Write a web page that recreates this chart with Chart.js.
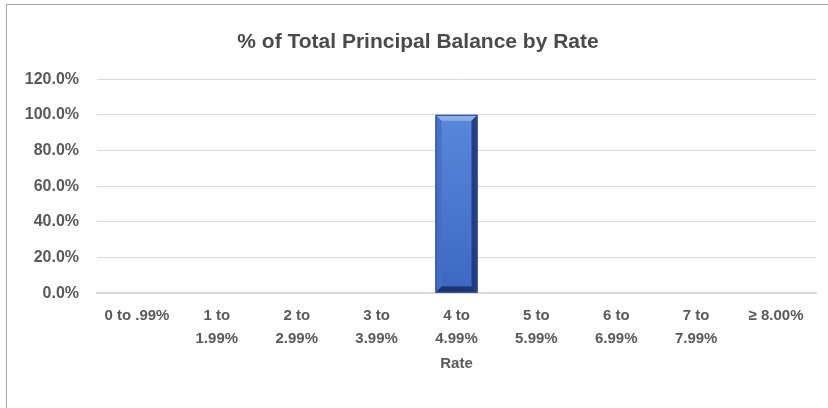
<!DOCTYPE html>
<html>
<head>
<meta charset="utf-8">
<script src="https://cdn.jsdelivr.net/npm/chart.js@4"></script>
<style>
  html, body { margin: 0; padding: 0; background: #fff; }
  #wrap { position: relative; width: 828px; height: 408px; overflow: hidden; }
  #frame { position: absolute; left: 6px; top: 4px; width: 840px; height: 420px; border: 1px solid #a6a6a6; box-sizing: border-box; }
  canvas { position: absolute; left: 0; top: 0; }
</style>
</head>
<body>
<div id="wrap">
  <div id="frame"></div>
  <canvas id="rateChart" width="828" height="408"></canvas>
</div>
<script>
var rateBuckets = [
  '0 to .99%', ['1 to', '1.99%'], ['2 to', '2.99%'], ['3 to', '3.99%'], ['4 to', '4.99%'],
  ['5 to', '5.99%'], ['6 to', '6.99%'], ['7 to', '7.99%'], '≥ 8.00%'
];
var pctBalance = [0, 0, 0, 0, 100, 0, 0, 0, 0];
var yTicks = [0, 20, 40, 60, 80, 100, 120];

var fontFam = "'Liberation Sans Narrow', 'Liberation Sans', sans-serif";
var grey = '#595959';

// beveled look for the bars
var bevel = {
  id: 'bevel',
  afterDatasetsDraw: function(chart) {
    var ctx = chart.ctx;
    chart.getDatasetMeta(0).data.forEach(function(bar, i) {
      if (!pctBalance[i]) return;
      var w = bar.width / 2, l = bar.x - w, r = bar.x + w, t = bar.y, b = bar.base, d = 6;
      ctx.save();
      function quad(pts, col) {
        ctx.beginPath();
        ctx.moveTo(pts[0], pts[1]);
        for (var k = 2; k < pts.length; k += 2) ctx.lineTo(pts[k], pts[k + 1]);
        ctx.closePath();
        ctx.fillStyle = col;
        ctx.fill();
      }
      quad([l, t, r, t, r - d, t + d, l + d, t + d], 'rgba(150,180,235,0.85)');
      quad([l, t, l + d, t + d, l + d, b - d, l, b], 'rgba(70,110,200,0.9)');
      quad([r, t, r - d, t + d, r - d, b - d, r, b], 'rgba(30,55,120,0.9)');
      quad([l, b, l + d, b - d, r - d, b - d, r, b], 'rgba(25,45,100,0.9)');
      ctx.strokeStyle = '#2c4a8c';
      ctx.lineWidth = 1;
      ctx.strokeRect(l + 0.5, t + 0.5, r - l - 1, b - t - 1);
      ctx.restore();
    });
  }
};

var el = document.getElementById('rateChart');
var g = el.getContext('2d').createLinearGradient(0, 80, 0, 292);
g.addColorStop(0, '#5f8ee0');
g.addColorStop(1, '#3d68c2');

new Chart(el, {
  type: 'bar',
  data: {
    labels: rateBuckets,
    datasets: [{
      data: pctBalance,
      backgroundColor: g,
      borderWidth: 0,
      categoryPercentage: 1,
      barPercentage: 0.526
    }]
  },
  options: {
    responsive: false,
    animation: false,
    layout: { padding: { left: 20, right: 12, top: 12, bottom: 35 } },
    plugins: {
      legend: { display: false },
      tooltip: { enabled: false },
      title: {
        display: true,
        text: '% of Total Principal Balance by Rate',
        color: '#4a4a4a',
        font: { family: fontFam, size: 21, weight: 'bold' },
        padding: { top: 18, bottom: 24 }
      }
    },
    scales: {
      x: {
        grid: { display: false, drawTicks: false, tickLength: 0 },
        border: { color: '#d9d9d9', width: 2 },
        ticks: {
          color: grey, maxRotation: 0, autoSkip: false, padding: 11,
          font: { family: fontFam, size: 15, weight: 'bold', lineHeight: 1.53 }
        },
        title: {
          display: true, text: 'Rate', color: grey, padding: { top: -6, bottom: 0 },
          font: { family: fontFam, size: 15, weight: 'bold' }
        }
      },
      y: {
        min: 0, max: 120,
        afterFit: function(s) { s.width = 77; },
        afterBuildTicks: function(s) { s.ticks = yTicks.map(function(v) { return { value: v }; }); },
        grid: { color: '#d9d9d9', drawTicks: false },
        border: { display: false },
        ticks: {
          color: grey, padding: 18,
          font: { family: fontFam, size: 16, weight: 'bold' },
          callback: function(v) { return v.toFixed(1) + '%'; }
        }
      }
    }
  },
  plugins: [bevel]
});
</script>
</body>
</html>
